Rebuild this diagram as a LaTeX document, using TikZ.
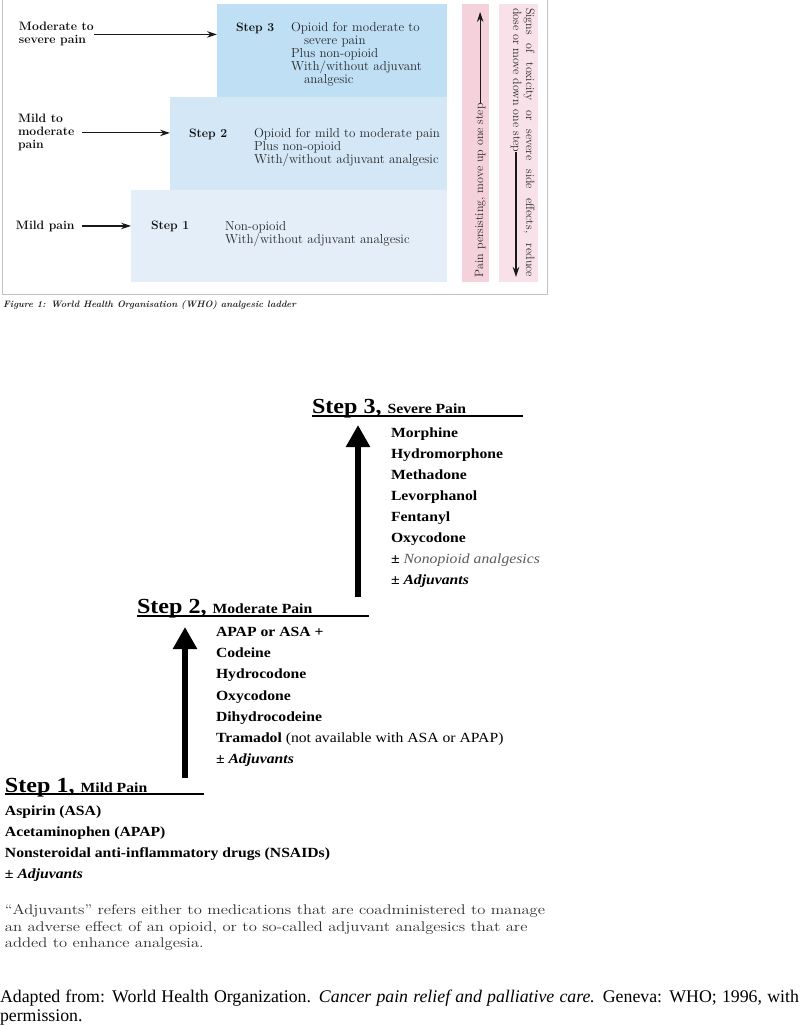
\documentclass[tikz,border=0pt]{standalone}
\usepackage{fontspec}
\usetikzlibrary{arrows.meta}
\newfontfamily\tms[FakeStretch=1.12]{Liberation Serif}
\newfontfamily\tmsn{Liberation Serif}
\newfontfamily\pal[FakeStretch=1.185]{Latin Modern Roman}
\definecolor{sthree}{RGB}{191,223,245}
\definecolor{stwo}{RGB}{211,231,246}
\definecolor{sone}{RGB}{228,238,248}
\definecolor{pkone}{RGB}{245,209,219}
\definecolor{pktwo}{RGB}{248,225,232}
\definecolor{framec}{RGB}{195,195,195}
\definecolor{toptext}{RGB}{40,40,40}
\definecolor{topbold}{RGB}{15,15,15}
\definecolor{paragc}{RGB}{45,45,45}
\definecolor{nonop}{RGB}{90,90,90}
\begin{document}
\begin{tikzpicture}[x=1pt,y=-1pt,
  tt/.style={inner sep=0pt, outer sep=0pt, anchor=base west, text=toptext, font=\fontsize{13}{13}\selectfont},
  tb/.style={inner sep=0pt, outer sep=0pt, anchor=base west, text=topbold, font=\fontsize{12.2}{13}\selectfont\bfseries},
  rt/.style={inner sep=0pt, outer sep=0pt, anchor=base west, text=toptext, font=\fontsize{12}{12}\selectfont},
  stepbox/.style={draw=none, inner sep=0pt, anchor=north west},
  thinarrow/.style={draw=black!90, line width=1.1pt, -{Stealth[length=10pt,width=6.5pt]}},
  bigarrow/.style={draw=black, line width=6pt, -{Triangle[length=22pt,width=23pt]}},
  ttl/.style={inner sep=0pt, outer sep=0pt, anchor=base west, font=\tms\bfseries},
  drug/.style={inner sep=0pt, outer sep=0pt, anchor=base west, font=\tms\fontsize{14}{14}\selectfont\bfseries},
  para/.style={inner sep=0pt, outer sep=0pt, anchor=base west, text=paragc, font=\pal\fontsize{14}{14}\selectfont},
  foot/.style={inner sep=0pt, outer sep=0pt, anchor=base west, font=\tmsn\fontsize{17.8}{17.8}\selectfont},
  ul/.style={draw=black, line width=1.3pt}
]
\useasboundingbox (0,0) rectangle (800,1026);
\fill[white] (0,0) rectangle (800,1026);

% ---------- top figure ----------
\draw[framec, line width=1pt] (2,0) -- (2,294) -- (547,294) -- (547,0);

\node[stepbox, fill=sthree, minimum width=230pt, minimum height=93pt] (b3) at (217,4) {};
\node[stepbox, fill=stwo, minimum width=277pt, minimum height=93pt] (b2) at (170,97) {};
\node[stepbox, fill=sone, minimum width=316pt, minimum height=92pt] (b1) at (131,190) {};
\node[stepbox, fill=pkone, minimum width=27pt, minimum height=278pt] (c1) at (462,4) {};
\node[stepbox, fill=pktwo, minimum width=39pt, minimum height=278pt] (c2) at (499,4) {};

% left labels
\node[tb, align=left, anchor=north west] (lmod) at (19,22.5) {Moderate to\\severe pain};
\draw[thinarrow] (lmod.east) -- (b3.west |- lmod.east);
\node[tb, align=left, anchor=north west] (lmm) at (18,114.5) {Mild to\\moderate\\pain};
\draw[thinarrow] ([xshift=8pt]lmm.east) -- (b2.west |- lmm.east);
\node[tb] (lmild) at (16,229) {Mild pain};
\draw[thinarrow] ([xshift=7pt]lmild.east) -- (b1.west |- lmild.east);

% step 3 text
\node[tb] (s3) at (236,31) {Step 3};
\node[tt] (s3a) at (291,31) {Opioid for moderate to};
\node[tt] (s3b) at (304,44) {severe pain};
\node[tt] (s3c) at (291,57) {Plus non-opioid};
\node[tt] (s3d) at (291,70) {With/without adjuvant};
\node[tt] (s3e) at (304,83) {analgesic};
% step 2 text
\node[tb] (s2) at (189,137) {Step 2};
\node[tt] (s2a) at (254,137) {Opioid for mild to moderate pain};
\node[tt] (s2b) at (254,150) {Plus non-opioid};
\node[tt] (s2c) at (254,163) {With/without adjuvant analgesic};
% step 1 text
\node[tb] (s1) at (151,229) {Step 1};
\node[tt] (s1a) at (225,230) {Non-opioid};
\node[tt] (s1b) at (225,243) {With/without adjuvant analgesic};

% rotated columns
\node[rt, rotate=90] (pup) at (483,277) {Pain persisting, move up one step};
\coordinate (puptip) at (480,12);
\draw[thinarrow] (pup.east) -- (pup.east |- puptip);
\node[rt, rotate=-90] (sig1) at (526,8) {\makebox[269pt][s]{Signs of toxicity or severe side effects, reduce}};
\node[rt, rotate=-90] (sig2) at (513,8) {dose or move down one step};
\coordinate (sigtip) at (516,277);
\draw[thinarrow] (sig2.east) -- (sig2.east |- sigtip);

\node[inner sep=0pt, anchor=base west, text=black!85, font=\fontsize{9.3}{9.3}\selectfont\bfseries\itshape] (cap) at (3,307) {Figure 1: World Health Organisation (WHO) analgesic ladder};

% ---------- bottom ladder ----------
\node[ttl] (t3) at (312,413) {\fontsize{21.5}{22}\selectfont Step 3, {\fontsize{14}{14}\selectfont Severe Pain}};
\draw[ul] ([yshift=-3pt]t3.base west) -- ++(211,0);
\node[ttl] (t2) at (137,613) {\fontsize{21.5}{22}\selectfont Step 2, {\fontsize{14}{14}\selectfont Moderate Pain}};
\draw[ul] ([yshift=-3pt]t2.base west) -- ++(232,0);
\node[ttl] (t1) at (5,792) {\fontsize{21.5}{22}\selectfont Step 1, {\fontsize{14}{14}\selectfont Mild Pain}};
\draw[ul] ([yshift=-2pt]t1.base west) -- ++(199,0);

\coordinate (a3from) at (358,597);
\coordinate (a3to) at (358,425);
\draw[bigarrow] (a3from) -- (a3to);
\coordinate (a2from) at (185,778);
\coordinate (a2to) at (185,627);
\draw[bigarrow] (a2from) -- (a2to);

% step 3 drugs
\node[drug] (d31) at (391,437) {Morphine};
\node[drug] (d32) at (391,458) {Hydromorphone};
\node[drug] (d33) at (391,479) {Methadone};
\node[drug] (d34) at (391,500) {Levorphanol};
\node[drug] (d35) at (391,521) {Fentanyl};
\node[drug] (d36) at (391,542) {Oxycodone};
\node[drug] (d37) at (391,563) {± {\mdseries\itshape\color{nonop}Nonopioid analgesics}};
\node[drug] (d38) at (391,584) {± \itshape Adjuvants};
% step 2 drugs
\node[drug] (d21) at (216,636) {APAP or ASA +};
\node[drug] (d22) at (216,657) {Codeine};
\node[drug] (d23) at (216,678) {Hydrocodone};
\node[drug] (d24) at (216,700) {Oxycodone};
\node[drug] (d25) at (216,721) {Dihydrocodeine};
\node[drug] (d26) at (216,742) {Tramadol {\mdseries (not available with ASA or APAP)}};
\node[drug] (d27) at (216,763) {± \itshape Adjuvants};
% step 1 drugs
\node[drug] (d11) at (5,815) {Aspirin (ASA)};
\node[drug] (d12) at (5,836) {Acetaminophen (APAP)};
\node[drug] (d13) at (5,857) {Nonsteroidal anti-inflammatory drugs (NSAIDs)};
\node[drug] (d14) at (5,878) {± \itshape Adjuvants};

% note
\node[para] (p1) at (5,914) {“Adjuvants” refers either to medications that are coadministered to manage};
\node[para] (p2) at (5,931) {an adverse effect of an opioid, or to so-called adjuvant analgesics that are};
\node[para] (p3) at (5,947) {added to enhance analgesia.};

% footer
\node[foot] (f1) at (0,1002) {\makebox[799pt][s]{Adapted from: World Health Organization. \textit{Cancer pain relief and palliative care.} Geneva: WHO; 1996, with}};
\node[foot] (f2) at (0,1021) {permission.};
\end{tikzpicture}
\end{document}
